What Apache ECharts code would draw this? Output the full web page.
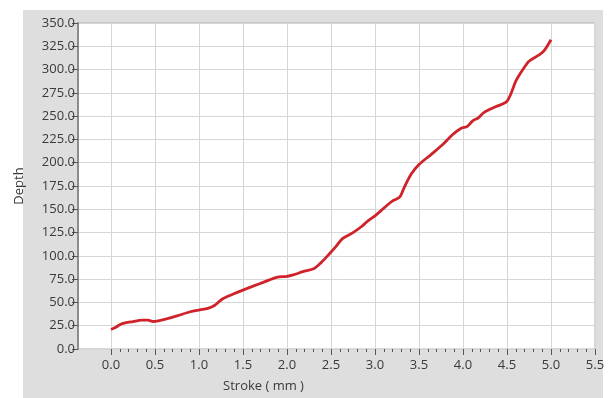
<!DOCTYPE html>
<html>
<head>
<meta charset="utf-8">
<script src="https://cdn.jsdelivr.net/npm/echarts@6/dist/echarts.min.js"></script>
<style>
  html, body { margin: 0; padding: 0; background: #ffffff; }
  #chart { width: 608px; height: 398px; }
</style>
</head>
<body>
<div id="chart"></div>
<script>
// Stroke (mm) vs. depth readings
const strokeMm = [0.00, 0.05, 0.10, 0.16, 0.25, 0.35, 0.42, 0.48, 0.55, 0.62, 0.75, 0.90, 1.01, 1.10, 1.18, 1.27, 1.39, 1.52, 1.63, 1.73, 1.88, 2.00, 2.07, 2.18, 2.31, 2.39, 2.48, 2.56, 2.63, 2.75, 2.84, 2.92, 3.00, 3.11, 3.20, 3.28, 3.33, 3.41, 3.50, 3.64, 3.77, 3.88, 3.98, 4.05, 4.11, 4.17, 4.24, 4.37, 4.49, 4.54, 4.60, 4.68, 4.75, 4.87, 4.92, 5.00];
const depth = [21, 23, 26, 28, 29.5, 31, 31, 29.5, 30.5, 32, 35.5, 40, 42, 43.6, 47, 54, 59, 64, 68, 71.5, 77, 78, 79.5, 83, 86.5, 93, 102, 110.5, 118.5, 125, 131, 137.5, 143, 152, 159, 163, 173, 187.5, 198, 209, 219.5, 230, 237, 239, 245, 248, 254, 260, 265, 273, 287.5, 300, 309, 316, 320, 332];

// Axis tick positions
const xMajorTicks = [0, 0.5, 1.0, 1.5, 2.0, 2.5, 3.0, 3.5, 4.0, 4.5, 5.0, 5.5];
const xMinorTicks = [];
for (let i = 0; i <= 55; i++) {
  if (i % 5 !== 0) xMinorTicks.push(i / 10);
}

const points = strokeMm.map((s, i) => [s, depth[i]]);

const font = "'Open Sans', 'Noto Sans', sans-serif";
const textColor = '#3a3a3a';

const chart = echarts.init(document.getElementById('chart'), null, { renderer: 'canvas' });
chart.setOption({
  backgroundColor: '#ffffff',
  animation: false,
  graphic: [{
    type: 'rect',
    z: -10,
    shape: { x: 23, y: 10, width: 580, height: 400 },
    style: { fill: '#dedede' },
    silent: true
  }],
  grid: {
    left: 78, top: 23, width: 517, bottom: 48,
    show: true,
    backgroundColor: '#ffffff',
    borderColor: '#b0b0b0',
    borderWidth: 1
  },
  xAxis: [{
    type: 'value',
    min: -0.375,
    max: 5.5,
    position: 'bottom',
    name: 'Stroke ( mm )',
    nameLocation: 'middle',
    nameGap: 31,
    nameTextStyle: { fontFamily: font, fontSize: 13, color: textColor, padding: [0, 146, 0, 0] },
    axisLine: { show: false, onZero: false },
    axisTick: { show: true, customValues: xMajorTicks, length: 6, lineStyle: { color: '#555555', width: 1 } },
    axisLabel: {
      customValues: xMajorTicks,
      margin: 10,
      fontFamily: font, fontSize: 13, color: textColor,
      formatter: v => v.toFixed(1)
    },
    splitLine: { show: true, lineStyle: { color: '#d6d6d6', width: 1 } }
  }, {
    type: 'value',
    min: -0.375,
    max: 5.5,
    position: 'bottom',
    axisLine: { show: false, onZero: false },
    axisTick: { show: true, customValues: xMinorTicks, length: 3, lineStyle: { color: '#555555', width: 1 } },
    axisLabel: { show: false },
    splitLine: { show: false }
  }],
  yAxis: {
    type: 'value',
    min: 0,
    max: 350,
    interval: 25,
    name: 'Depth',
    nameLocation: 'middle',
    nameGap: 52,
    nameTextStyle: { fontFamily: font, fontSize: 13, color: textColor },
    axisLine: { show: true, onZero: false, lineStyle: { color: '#8c8c8c', width: 2 } },
    axisTick: { show: true, length: 6, lineStyle: { color: '#555555', width: 1 } },
    axisLabel: {
      margin: 3,
      fontFamily: font, fontSize: 13, color: textColor,
      formatter: v => v.toFixed(1)
    },
    splitLine: { show: true, lineStyle: { color: '#d6d6d6', width: 1 } }
  },
  series: [{
    type: 'line',
    xAxisIndex: 0,
    data: points,
    smooth: 0.3,
    symbol: 'none',
    lineStyle: { color: '#cf2229', width: 2.8 }
  }]
});
</script>
</body>
</html>
